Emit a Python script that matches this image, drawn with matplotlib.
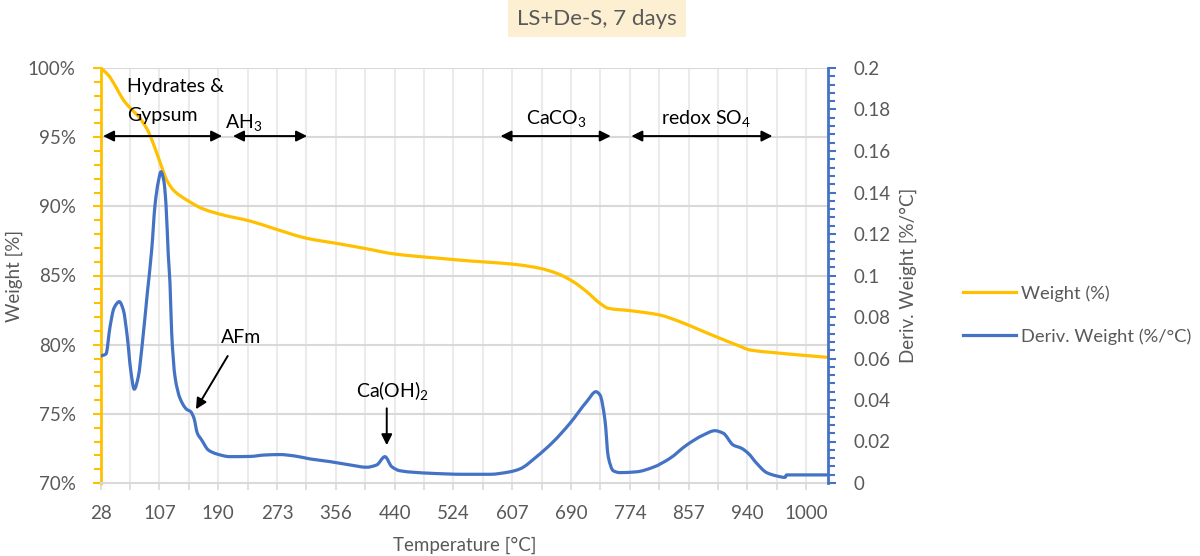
import numpy as np
import matplotlib
matplotlib.use("Agg")
import matplotlib.pyplot as plt
from matplotlib.patches import Rectangle, PathPatch
from matplotlib.path import Path
from matplotlib.lines import Line2D
from matplotlib.ticker import MultipleLocator, FuncFormatter

plt.rcParams['font.family'] = ['Lato', 'DejaVu Sans']
plt.rcParams['mathtext.default'] = 'regular'

# Temperature labels shown on the category axis (one every two gridline slots)
tick_temps = [28, 107, 190, 273, 356, 440, 524, 607, 690, 774, 857, 940, 1000]

# TGA weight curve
weight_temp = [28, 38.2, 49.5, 58.4, 67.4, 80.8, 92.0, 101.0, 109.1, 117.2, 126.5,
               145.4, 168.8, 197.1, 234.7, 267.6, 314.9, 361.8, 409.4, 433.3, 466.6,
               504.7, 547.3, 589.7, 617.9, 646.1, 669.7, 693.2, 712.3, 731.3, 743.1,
               774.1, 816.5, 844.7, 872.9, 901.2, 924.8, 943.0, 963.3, 993.9, 1020.8]
weight_pct = [100.0, 99.49, 98.53, 97.69, 97.13, 96.36, 95.40, 94.20, 92.99, 91.90, 91.18,
              90.46, 89.81, 89.37, 88.94, 88.41, 87.69, 87.28, 86.84, 86.60, 86.41,
              86.24, 86.05, 85.90, 85.76, 85.52, 85.16, 84.55, 83.83, 82.99, 82.63,
              82.46, 82.14, 81.66, 81.06, 80.46, 79.98, 79.61, 79.45, 79.25, 79.09]

# DTG curve
deriv_temp = [28, 35.1, 40.5, 45.9, 53.0, 58.4, 63.7, 68.3, 73.1, 78.5, 84.4, 90.6, 96.5,
              101.0, 105.4, 109.1, 113.3, 116.2, 119.4, 121.8, 124.2, 128.9, 136.0, 145.4,
              151.0, 155.7, 160.4, 166.6, 175.9, 187.8, 206.5, 234.7, 255.9, 277.1, 298.3,
              319.5, 347.7, 376.2, 400.0, 414.3, 426.1, 435.7, 447.6, 490.4, 537.8, 575.5,
              603.8, 617.9, 641.4, 664.9, 688.5, 712.3, 725.6, 731.3, 738.4, 743.1,
              750.3, 759.8, 783.6, 807.0, 830.6, 854.2, 877.6, 894.1, 905.8, 919.9, 931.8,
              940.8, 949.4, 959.6, 969.8, 978.3, 980.0, 1020.8]
deriv_val = [0.0612, 0.0622, 0.0752, 0.0843, 0.0874, 0.0834, 0.0705, 0.0545, 0.0452, 0.0512,
             0.0689, 0.0914, 0.1123, 0.1340, 0.1452, 0.1500, 0.1452, 0.1340, 0.1099, 0.0964,
             0.0723, 0.0512, 0.0408, 0.0355, 0.0344, 0.0312, 0.0240, 0.0207, 0.0159, 0.0140,
             0.0127, 0.0128, 0.0135, 0.0137, 0.0130, 0.0116, 0.0103, 0.0087, 0.0076, 0.0087,
             0.0127, 0.0079, 0.0059, 0.0047, 0.0042, 0.0042, 0.0054, 0.0068, 0.0127,
             0.0199, 0.0288, 0.0392, 0.0440, 0.0424, 0.0304, 0.0127, 0.0059, 0.0050, 0.0054,
             0.0076, 0.0119, 0.0183, 0.0231, 0.0252, 0.0240, 0.0183, 0.0167, 0.0143, 0.0095,
             0.0050, 0.0034, 0.0027, 0.0039, 0.0039]

ORANGE = '#FFC000'
BLUE = '#4472C4'
GREY_TXT = '#595959'
FS = 13.5

label_slots = np.arange(0, 2 * len(tick_temps), 2)


def to_slot(t):
    """Map temperatures onto category-axis slots."""
    t = np.asarray(t, float)
    s = np.interp(t, tick_temps, label_slots)
    rate = (label_slots[-1] - label_slots[-2]) / (tick_temps[-1] - tick_temps[-2])
    return np.where(t > tick_temps[-1], label_slots[-1] + (t - tick_temps[-1]) * rate, s)


def smooth_path(x, y):
    """Monotone cubic Hermite path through the points, drawn as Bezier segments."""
    x = np.asarray(x, float)
    y = np.asarray(y, float)
    h = np.diff(x)
    delta = np.diff(y) / h
    d = np.zeros_like(y)
    d[0], d[-1] = delta[0], delta[-1]
    for k in range(1, len(x) - 1):
        if delta[k - 1] * delta[k] > 0:
            w1 = 2 * h[k] + h[k - 1]
            w2 = h[k] + 2 * h[k - 1]
            d[k] = (w1 + w2) / (w1 / delta[k - 1] + w2 / delta[k])
    verts = [(x[0], y[0])]
    codes = [Path.MOVETO]
    for k in range(len(x) - 1):
        verts += [(x[k] + h[k] / 3, y[k] + d[k] * h[k] / 3),
                  (x[k + 1] - h[k] / 3, y[k + 1] - d[k + 1] * h[k] / 3),
                  (x[k + 1], y[k + 1])]
        codes += [Path.CURVE4] * 3
    return Path(verts, codes)


W, H = 1200, 556
fig = plt.figure(figsize=(W / 100, H / 100), dpi=100)
x0, x1, y0, y1 = 100.7, 828.3, 68, 483
ax = fig.add_axes([x0 / W, 1 - y1 / H, (x1 - x0) / W, (y1 - y0) / H])
ax2 = ax.twinx()

ax.set_xlim(0, 24.75)
ax.set_ylim(70, 100)
ax2.set_ylim(0, 0.2)

# gridlines
for s in range(1, 25):
    ax.axvline(s, color='#EBEBEB', lw=1.5, zorder=0)
for v in range(75, 101, 5):
    ax.axhline(v, color='#D9D9D9', lw=1.5, zorder=0)

ax.add_patch(PathPatch(smooth_path(to_slot(weight_temp), weight_pct), facecolor='none',
                       edgecolor=ORANGE, lw=2.3, joinstyle='round', capstyle='round',
                       zorder=3))
ax2.add_patch(PathPatch(smooth_path(to_slot(deriv_temp), deriv_val), facecolor='none',
                        edgecolor=BLUE, lw=2.3, joinstyle='round', capstyle='round',
                        zorder=3))

# x axis
ax.set_xticks(range(25))
ax.set_xticklabels([str(tick_temps[i // 2]) if i % 2 == 0 else '' for i in range(25)])
ax.tick_params(axis='x', direction='out', length=5, width=1.2, color='#D9D9D9',
               labelcolor=GREY_TXT, labelsize=FS, pad=11)
ax.set_xlabel('Temperature [°C]', color=GREY_TXT, fontsize=FS)
ax.xaxis.set_label_coords(0.5, -(545 - y1) / (y1 - y0))
ax.xaxis.label.set_va('center')

# left axis
ax.yaxis.set_major_locator(MultipleLocator(5))
ax.yaxis.set_minor_locator(MultipleLocator(1))
ax.yaxis.set_major_formatter(FuncFormatter(lambda v, p: f'{int(round(v))}%'))
ax.tick_params(axis='y', which='both', direction='out', color=ORANGE, width=1.5,
               labelcolor=GREY_TXT, labelsize=FS)
ax.tick_params(axis='y', which='major', length=6, pad=12)
ax.tick_params(axis='y', which='minor', length=5)
ax.set_ylabel('Weight [%]', color=GREY_TXT, fontsize=FS)
ax.yaxis.set_label_coords(-(x0 - 14) / (x1 - x0), 0.5)
ax.yaxis.label.set_va('center')

# right axis
ax2.yaxis.set_major_locator(MultipleLocator(0.02))
ax2.yaxis.set_minor_locator(MultipleLocator(0.004))
ax2.yaxis.set_major_formatter(FuncFormatter(lambda v, p: f'{round(v, 3):g}'))
ax2.tick_params(axis='y', which='both', direction='out', color=BLUE, width=1.5,
                labelcolor=GREY_TXT, labelsize=FS)
ax2.tick_params(axis='y', which='major', length=6, pad=12)
ax2.tick_params(axis='y', which='minor', length=5)
ax2.set_ylabel('Deriv. Weight [%/°C]', color=GREY_TXT, fontsize=FS)
ax2.yaxis.set_label_coords((908 - x0) / (x1 - x0), 0.5)
ax2.yaxis.label.set_va('center')

for sp in ('top', 'right'):
    ax.spines[sp].set_visible(False)
ax.spines['left'].set_color(ORANGE)
ax.spines['left'].set_linewidth(2)
ax.spines['bottom'].set_color('#D9D9D9')
ax.spines['bottom'].set_linewidth(1.5)
for sp in ('top', 'left', 'bottom'):
    ax2.spines[sp].set_visible(False)
ax2.spines['right'].set_color(BLUE)
ax2.spines['right'].set_linewidth(2)

# annotations
txt_kw = dict(color='black', fontsize=FS + 0.5, zorder=6)
ax.text(0.89, 98.29, 'Hydrates &', ha='left', va='baseline', **txt_kw)
ax.text(0.89, 96.17, 'Gypsum', ha='left', va='baseline', **txt_kw)
ax.text(4.85, 95.66, 'AH$_3$', ha='center', va='baseline', **txt_kw)
ax.text(15.5, 95.95, 'CaCO$_3$', ha='center', va='baseline', **txt_kw)
ax.text(20.6, 95.95, 'redox SO$_4$', ha='center', va='baseline', **txt_kw)
ax.text(4.1, 80.10, 'AFm', ha='left', va='baseline', **txt_kw)
ax.text(8.7, 76.24, 'Ca(OH)$_2$', ha='left', va='baseline', **txt_kw)

dbl = dict(arrowstyle='<|-|>', color='black', lw=1.4, mutation_scale=16,
           shrinkA=0, shrinkB=0)
for a, b in [(0.08, 4.13), (4.5, 7.02), (13.6, 17.35), (18.05, 22.85)]:
    ax.annotate('', xy=(b, 95.08), xytext=(a, 95.08), arrowprops=dbl, zorder=6)

sgl = dict(arrowstyle='-|>', color='black', lw=1.4, mutation_scale=16,
           shrinkA=0, shrinkB=0)
ax.annotate('', xy=(3.24, 75.33), xytext=(4.32, 79.18), arrowprops=sgl, zorder=6)
ax.annotate('', xy=(9.73, 72.73), xytext=(9.73, 75.40), arrowprops=sgl, zorder=6)

# title
fig.patches.append(Rectangle((508 / W, 1 - 37 / H), 178 / W, 37 / H,
                             transform=fig.transFigure, facecolor='#FCEFD2',
                             edgecolor='none', zorder=0))
fig.text(597 / W, 1 - 19 / H, 'LS+De-S, 7 days', ha='center', va='center',
         color=GREY_TXT, fontsize=16)

# legend
handles = [Line2D([], [], color=ORANGE, lw=2.3), Line2D([], [], color=BLUE, lw=2.3)]
fig.legend(handles, ['Weight (%)', 'Deriv. Weight (%/°C)'], loc='center left',
           bbox_to_anchor=(946 / W, 1 - 315 / H), frameon=False, fontsize=13.2,
           labelcolor=GREY_TXT, handlelength=2.9, handletextpad=0.3,
           labelspacing=1.45)

fig.savefig('out.png', dpi=100)
